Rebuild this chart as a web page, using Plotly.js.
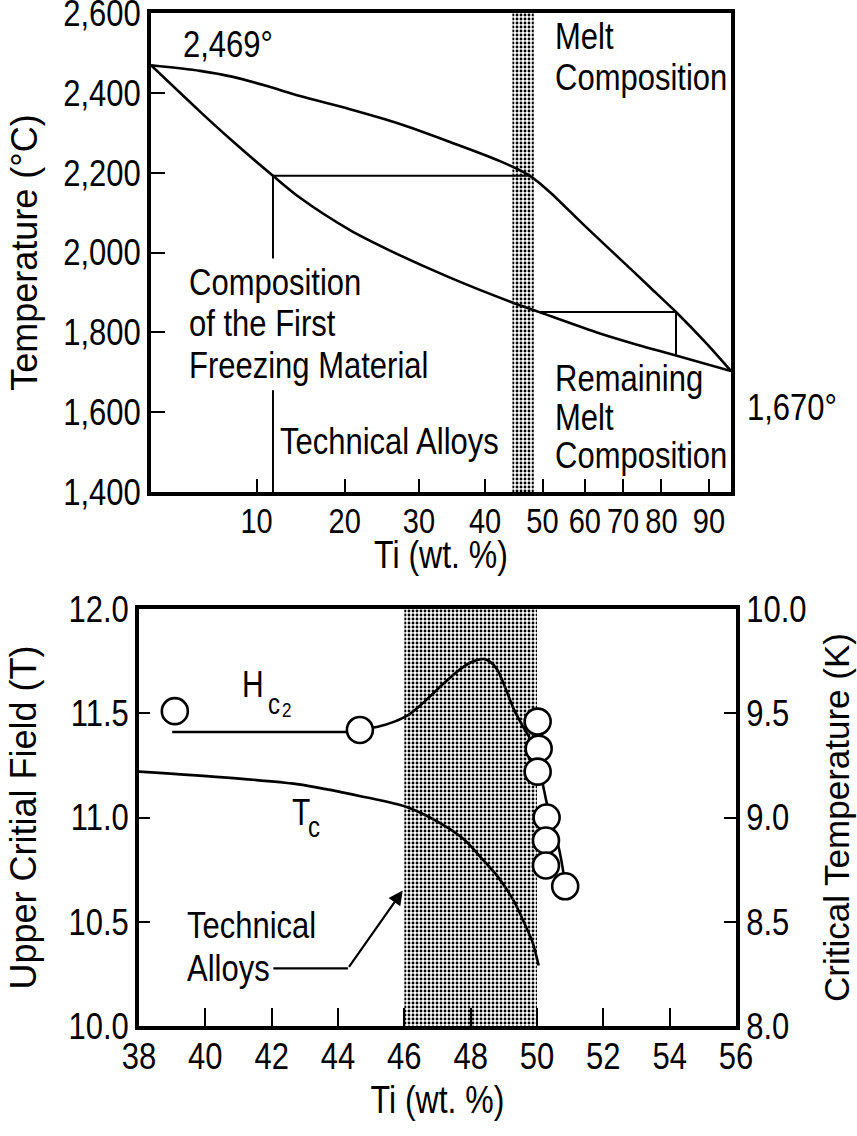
<!DOCTYPE html>
<html>
<head>
<meta charset="utf-8">
<script src="https://cdn.plot.ly/plotly-3.0.1.min.js"></script>
<style>html,body{margin:0;padding:0;background:#fff;} #chart{width:857px;height:1136px;}</style>
</head>
<body>
<div id="chart"></div>
<script>
// ---------------- DATA ----------------
// Top panel: Nb-Ti phase diagram. The horizontal axis runs linearly in atomic % Ti (0 = Nb, 100 = Ti);
// its ticks are labelled in wt. % Ti. Tick positions (in at. %).
const wtTickLabels = ['10', '20', '30', '40', '50', '60', '70', '80', '90'];
const wtTickPosAt  = [18.2, 33.4, 46.2, 57.6, 67.5, 74.8, 81.4, 88.0, 96.2];
const tempTicks = [1400, 1600, 1800, 2000, 2200, 2400, 2600];

// liquidus ("melt composition")  — Ti at.% / °C
const liquidusAt = [0, 8.45, 14.14, 20.0, 25.69, 34.31, 42.93, 51.55, 60.17, 65.34, 68.79, 74.48, 80.34, 86.03, 90.52, 95.52, 100];
const liquidusT  = [2469, 2455, 2440, 2417, 2392, 2359, 2322, 2277, 2229, 2192, 2151, 2071, 1991, 1913, 1851, 1776, 1703];
// solidus ("first freezing material")
const solidusAt = [0, 8.45, 14.14, 21.03, 25.69, 34.31, 41.03, 51.55, 62.07, 67.07, 77.41, 83.79, 90.52, 100];
const solidusT  = [2469, 2353, 2278, 2192, 2137, 2056, 2006, 1937, 1876, 1850, 1797, 1769, 1742, 1703];
// tie lines
const tie1At = [21.03, 65.34];
const tie1T  = [2192, 2192];
const tie2At = [67.07, 90.52];
const tie2T  = [1851, 1851];
// composition drop lines
const drop1At = [21.03, 21.03, null, 21.03, 21.03];
const drop1T  = [2192, 1985, null, 1655, 1400];
const drop2At = [90.52, 90.52];
const drop2T  = [1851, 1742];

// technical alloy range (wt. % Ti)
const techAlloysWt = [46, 50];

// Bottom panel
const hc2PointsTi = [39.08, 44.66, 50.02, 50.05, 50.02, 50.29, 50.27, 50.27, 50.85];
const hc2PointsT  = [11.51, 11.42, 11.46, 11.33, 11.22, 11.00, 10.89, 10.77, 10.67];
const hc2FlatTi = [39.0, 44.66];
const hc2FlatT  = [11.41, 11.41];
const hc2CurveTi = [44.66, 45.2, 45.7, 46.1, 46.5, 46.8, 47.2, 47.6, 47.9, 48.2, 48.4, 48.6, 48.8, 49.0, 49.3, 49.6, 49.85, 50.05, 50.2, 50.35, 50.5, 50.65, 50.75, 50.85];
const hc2CurveT  = [11.42, 11.435, 11.46, 11.49, 11.54, 11.585, 11.645, 11.70, 11.735, 11.755, 11.76, 11.745, 11.71, 11.64, 11.52, 11.43, 11.36, 11.26, 11.14, 11.03, 10.95, 10.86, 10.78, 10.68];
const tcTi = [38.0, 40.74, 42.76, 44.75, 46.07, 47.0, 47.76, 48.3, 48.8, 49.3, 49.6, 49.87, 50.05];
const tcK  = [9.22, 9.19, 9.16, 9.10, 9.05, 8.98, 8.90, 8.81, 8.72, 8.60, 8.50, 8.40, 8.29];

// ---------------- HELPERS ----------------
function wtToAt(w) { const ti = w / 47.867, nb = (100 - w) / 92.906; return 100 * ti / (ti + nb); }
const W = 857, H = 1136;
const FN = 'Liberation Sans, Arial, sans-serif';
const FR = 'Liberation Sans, Arial, sans-serif';
const S = 31;       // horizontal text size
const SY = 1.2;     // the scanned figure's lettering is taller than it is wide

const topX = [0, 100], topY = [1400, 2600];
const botX = [38, 56], botY = [10, 12], botY2 = [8, 10];

const pattern = {shape: '.', size: 4, solidity: 0.4, fgcolor: '#000', bgcolor: '#fff'};
const bandTop = techAlloysWt.map(wtToAt);

const traces = [
  {x: [bandTop[0], bandTop[1], bandTop[1], bandTop[0], bandTop[0]], y: [topY[0], topY[0], topY[1], topY[1], topY[0]],
   xaxis: 'x', yaxis: 'y', mode: 'lines', fill: 'toself', fillcolor: '#fff', fillpattern: pattern, line: {width: 0}, hoverinfo: 'skip'},
  {x: liquidusAt, y: liquidusT, xaxis: 'x', yaxis: 'y', mode: 'lines', line: {color: '#000', width: 2.6, shape: 'spline', smoothing: 0.8}},
  {x: solidusAt, y: solidusT, xaxis: 'x', yaxis: 'y', mode: 'lines', line: {color: '#000', width: 2.6, shape: 'spline', smoothing: 0.8}},
  {x: tie1At, y: tie1T, xaxis: 'x', yaxis: 'y', mode: 'lines', line: {color: '#000', width: 2}},
  {x: tie2At, y: tie2T, xaxis: 'x', yaxis: 'y', mode: 'lines', line: {color: '#000', width: 2}},
  {x: drop1At, y: drop1T, xaxis: 'x', yaxis: 'y', mode: 'lines', connectgaps: false, line: {color: '#000', width: 2}},
  {x: drop2At, y: drop2T, xaxis: 'x', yaxis: 'y', mode: 'lines', line: {color: '#000', width: 2}},

  {x: [techAlloysWt[0], techAlloysWt[1], techAlloysWt[1], techAlloysWt[0], techAlloysWt[0]], y: [botY[0], botY[0], botY[1], botY[1], botY[0]],
   xaxis: 'x2', yaxis: 'y3', mode: 'lines', fill: 'toself', fillcolor: '#fff', fillpattern: pattern, line: {width: 0}, hoverinfo: 'skip'},
  {x: tcTi, y: tcK, xaxis: 'x2', yaxis: 'y4', mode: 'lines', line: {color: '#000', width: 2.6, shape: 'spline', smoothing: 0.8}},
  {x: hc2FlatTi, y: hc2FlatT, xaxis: 'x2', yaxis: 'y3', mode: 'lines', line: {color: '#000', width: 2.4}},
  {x: hc2CurveTi, y: hc2CurveT, xaxis: 'x2', yaxis: 'y3', mode: 'lines', line: {color: '#000', width: 2.6, shape: 'spline', smoothing: 0.7}},
  {x: hc2PointsTi, y: hc2PointsT, xaxis: 'x2', yaxis: 'y3', mode: 'markers',
   marker: {symbol: 'circle', size: 26, color: '#fff', line: {color: '#000', width: 2.6}}}
];

function A(x, y, text, size, anchor) {
  return {xref: 'paper', yref: 'paper', x: x / W, y: 1 - y / H, text: text, showarrow: false,
          xanchor: anchor || 'left', yanchor: 'middle', font: {family: FN, size: size || S, color: '#000'}};
}
const annotations = [
  A(228, 45, '2,469°', S, 'center'),
  A(553, 37, 'Melt'), A(553, 77, 'Composition'),
  A(187, 283, 'Composition'), A(187, 324, 'of the First'), A(187, 366, 'Freezing Material'),
  A(278, 441, 'Technical Alloys'),
  A(553, 379, 'Remaining'), A(553, 417, 'Melt'), A(553, 455, 'Composition'),
  A(745, 408, '1,670°'),
  A(253, 684, 'H', 30, 'center'), A(274, 703, 'c', 24, 'center'), A(286, 710, '2', 17, 'center'),
  A(301, 812, 'T', 30, 'center'), A(314, 826, 'c', 24, 'center'),
  A(185, 925, 'Technical'), A(185, 968, 'Alloys'),
  {xref: 'x2', yref: 'y3', axref: 'x2', ayref: 'y3', x: 45.95, y: 10.65, ax: 44.3, ay: 10.276, text: '',
   showarrow: true, arrowhead: 2, arrowsize: 1.3, arrowwidth: 2.2, arrowcolor: '#000', standoff: 0}
];

const shapes = [
  {type: 'line', xref: 'x2', yref: 'y3', x0: 42.05, y0: 10.276, x1: 44.3, y1: 10.276, line: {color: '#000', width: 2.2}}
];

const tickFont = {family: FN, size: S, color: '#000'};
const axBase = {showgrid: false, zeroline: false, showline: true, linecolor: '#000', linewidth: 4,
                ticks: 'inside', tickcolor: '#000', tickwidth: 2, tickfont: tickFont, fixedrange: true,
                tickangle: 0, ticklabeloverflow: 'allow', automargin: false};

const layout = {
  width: W, height: H, margin: {l: 0, r: 0, t: 0, b: 0},
  paper_bgcolor: '#fff', plot_bgcolor: '#fff', showlegend: false,
  xaxis: Object.assign({}, axBase, {domain: [151 / W, 731 / W], anchor: 'y', range: topX, mirror: true,
    tickmode: 'array', tickvals: wtTickPosAt, ticktext: wtTickLabels, ticklen: 13,
    tickfont: {family: FN, size: 29, color: '#000'},
    title: {text: 'Ti (wt. %)', font: {family: FN, size: 32, color: '#000'}, standoff: 0}}),
  yaxis: Object.assign({}, axBase, {domain: [1 - 492 / H, 1 - 13 / H], anchor: 'x', range: topY, mirror: true,
    tickmode: 'array', tickvals: tempTicks, tickformat: ',d', ticklen: 14,
    title: {text: 'Temperature (°C)', font: {family: FR, size: 36, color: '#000'}, standoff: 16}}),
  xaxis2: Object.assign({}, axBase, {domain: [139 / W, 736 / W], anchor: 'y3', range: botX, mirror: true,
    dtick: 2, tick0: 38, ticklen: 18,
    title: {text: 'Ti (wt. %)', font: {family: FN, size: 32, color: '#000'}, standoff: 16}}),
  yaxis3: Object.assign({}, axBase, {domain: [1 - 1026 / H, 1 - 609 / H], anchor: 'x2', range: botY,
    dtick: 0.5, tick0: 10, tickformat: '.1f', ticklen: 11,
    title: {text: 'Upper Critial Field (T)', font: {family: FR, size: 36, color: '#000'}, standoff: 22}}),
  yaxis4: Object.assign({}, axBase, {domain: [1 - 1026 / H, 1 - 609 / H], anchor: 'x2', overlaying: 'y3', side: 'right',
    range: botY2, dtick: 0.5, tick0: 8, tickformat: '.1f', ticklen: 12,
    title: {text: 'Critical Temperature (K)', font: {family: FR, size: 35, color: '#000'}, standoff: 20}}),
  annotations: annotations, shapes: shapes
};

Plotly.newPlot('chart', traces, layout, {staticPlot: true, displayModeBar: false}).then(function () {
  // stretch horizontal lettering vertically (about its own centre) to mimic the condensed type of the scan
  document.querySelectorAll('#chart svg text').forEach(function (t) {
    if (!t.textContent.trim()) return;
    const tr = t.getAttribute('transform') || '';
    const m = tr.match(/rotate\(\s*(-?[\d.]+)/);
    if (m && Math.abs(parseFloat(m[1])) > 0.1) return;
    const b = t.getBBox();
    const cy = b.y + b.height / 2;
    t.setAttribute('transform', tr + ' translate(0,' + cy + ') scale(1,' + SY + ') translate(0,' + (-cy) + ')');
  });
});
</script>
</body>
</html>
